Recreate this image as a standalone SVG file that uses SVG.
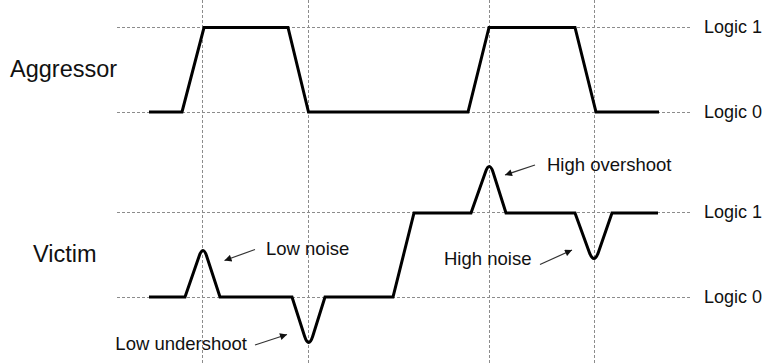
<svg xmlns="http://www.w3.org/2000/svg" width="765" height="363" viewBox="0 0 765 363">
  <style>
    .grid { stroke: #8c8c8c; stroke-width: 1; stroke-dasharray: 3 2; fill: none; }
    .wave { stroke: #000; stroke-width: 3; fill: none; stroke-linejoin: miter; }
    .arrow { stroke: #333; stroke-width: 1.2; fill: none; marker-end: url(#ah); }
    text { font-family: "Liberation Sans", Arial, sans-serif; fill: #111; }
    .lbl { font-size: 18.5px; }
    .lvl { font-size: 18px; }
    .big { font-size: 23.5px; }
  </style>
  <defs>
    <marker id="ah" viewBox="0 0 10 10" refX="10" refY="5" markerWidth="9" markerHeight="7" markerUnits="userSpaceOnUse" orient="auto">
      <path d="M0,0 L10,5 L0,10 z" fill="#111"/>
    </marker>
  </defs>
  <rect width="765" height="363" fill="#fff"/>
  <g id="grid">
    <line class="grid" x1="117" y1="27.5" x2="690" y2="27.5"/>
    <line class="grid" x1="117" y1="112.5" x2="690" y2="112.5"/>
    <line class="grid" x1="117" y1="212.5" x2="690" y2="212.5"/>
    <line class="grid" x1="117" y1="297.5" x2="690" y2="297.5"/>
    <line class="grid" x1="202.5" y1="0" x2="202.5" y2="363"/>
    <line class="grid" x1="308.5" y1="0" x2="308.5" y2="363"/>
    <line class="grid" x1="489.5" y1="0" x2="489.5" y2="363"/>
    <line class="grid" x1="594.5" y1="0" x2="594.5" y2="363"/>
  </g>
  <g id="aggressor">
    <path class="wave" d="M149,112 L182,112 L204,27.5 L288,27.5 L308.5,112 L468,112 L489,27.5 L575,27.5 L596,112 L659,112"/>
  </g>
  <g id="victim">
    <path class="wave" d="M149,297 L185,297 L199.2,256 Q203,245 206.6,256 L220,297 L292,297 L304.5,336 Q308.7,349 312.8,336 L325,297 L393,297 L414,213 L471,213 L485.5,172 Q489.3,161 493,172 L506,213 L575,213 L589.2,252 Q594,265 598.5,252 L612,213 L658,213"/>
  </g>
  <g id="connectors">
    <line class="arrow" x1="255" y1="249.5" x2="224.5" y2="260.5"/>
    <line class="arrow" x1="255" y1="345" x2="287" y2="334.5"/>
    <line class="arrow" x1="535" y1="165" x2="505" y2="175"/>
    <line class="arrow" x1="540" y1="264.5" x2="572" y2="250"/>
  </g>
  <g id="labels">
    <text class="big" x="10" y="77">Aggressor</text>
    <text class="big" x="33" y="262">Victim</text>
    <text class="lvl" x="704" y="33">Logic 1</text>
    <text class="lvl" x="704" y="118">Logic 0</text>
    <text class="lvl" x="704" y="218">Logic 1</text>
    <text class="lvl" x="704" y="303">Logic 0</text>
    <text class="lbl" x="266" y="255">Low noise</text>
    <text class="lbl" x="247" y="350" text-anchor="end">Low undershoot</text>
    <text class="lbl" x="547" y="171">High overshoot</text>
    <text class="lbl" x="444" y="265">High noise</text>
  </g>
</svg>
